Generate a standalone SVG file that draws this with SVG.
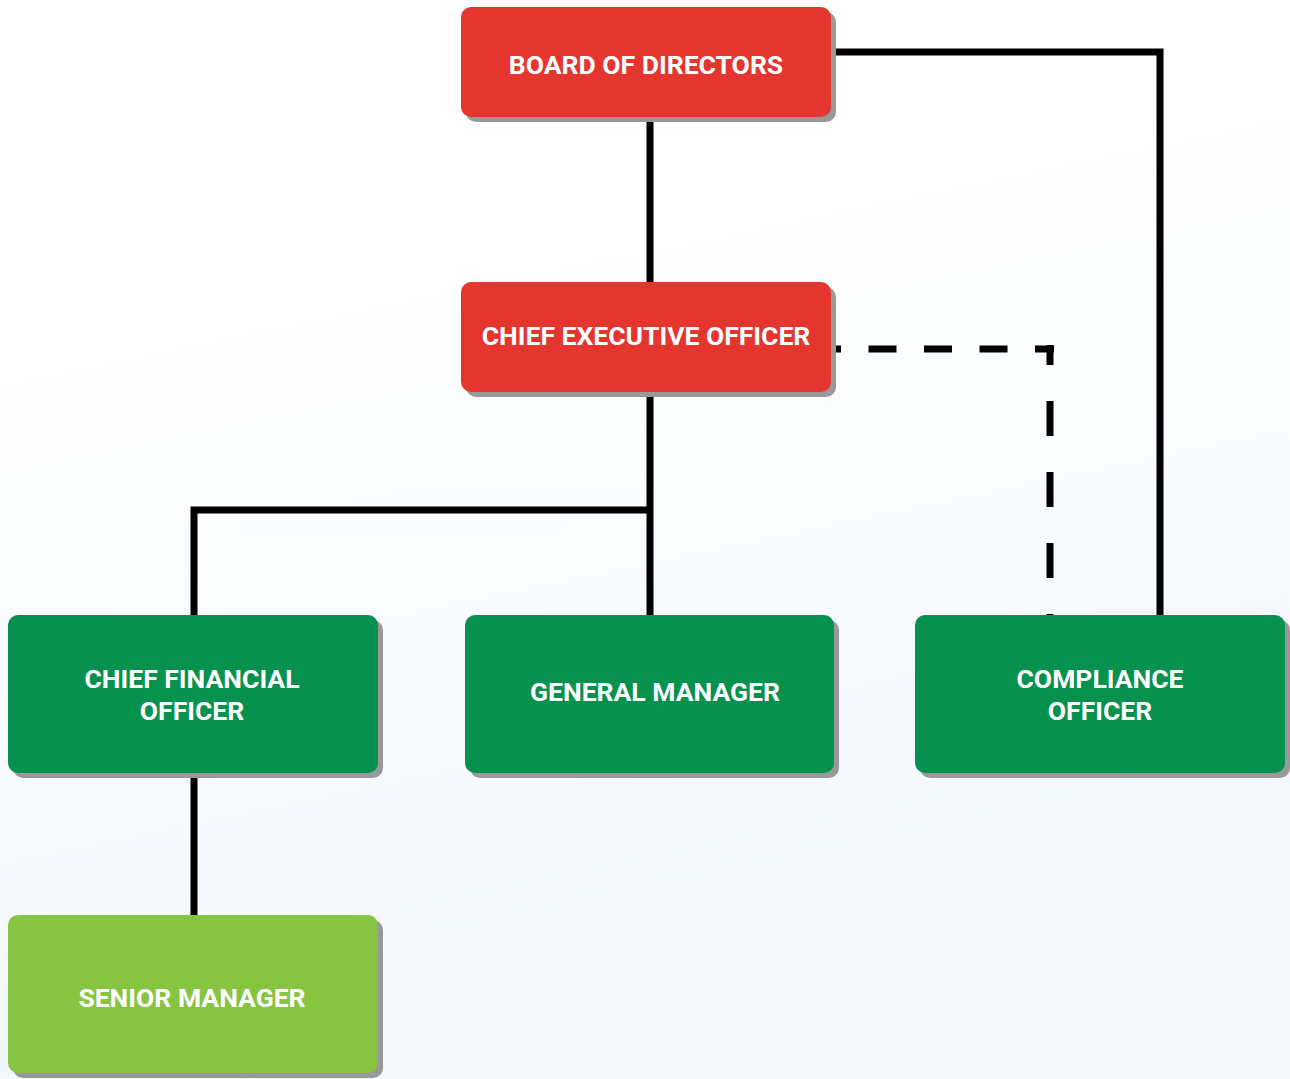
<svg xmlns="http://www.w3.org/2000/svg" width="1290" height="1079" viewBox="0 0 1290 1079">
  <defs>
    <linearGradient id="bg" x1="0" y1="0" x2="0.25" y2="1">
      <stop offset="0" stop-color="#ffffff"/>
      <stop offset="0.3" stop-color="#ffffff"/>
      <stop offset="1" stop-color="#f1f7fd"/>
    </linearGradient>
    <style>
      .shadow { fill: #999999; }
      .red { fill: #e4352e; }
      .green { fill: #07914e; }
      .lime { fill: #86c441; }
      .label { font-family: Roboto, "Liberation Sans", sans-serif; font-weight: bold; font-size: 26.5px; fill: #ffffff; text-anchor: middle; }
      .wire { fill: none; stroke: #000000; stroke-width: 7; }
    </style>
  </defs>

  <rect x="0" y="0" width="1290" height="1079" fill="url(#bg)"/>

  <!-- connectors -->
  <g id="connectors">
    <path class="wire" d="M650,117 V282"/>
    <path class="wire" d="M650,392 V615"/>
    <path class="wire" d="M194,615 V510 H650"/>
    <path class="wire" d="M194,773 V915"/>
    <path class="wire" d="M831,52 H1160 V615"/>
    <path class="wire" d="M831,349 H1054" stroke-dasharray="28 27.5" stroke-dashoffset="18"/>
    <path class="wire" d="M1050,345 V615" stroke-dasharray="35 36" stroke-dashoffset="15"/>
  </g>

  <g id="board">
    <rect class="shadow" x="466" y="12" width="370" height="110" rx="10"/>
    <rect class="red" x="461" y="7" width="370" height="110" rx="10"/>
    <text class="label" x="646" y="74">BOARD OF DIRECTORS</text>
  </g>

  <g id="ceo">
    <rect class="shadow" x="466" y="287" width="370" height="110" rx="10"/>
    <rect class="red" x="461" y="282" width="370" height="110" rx="10"/>
    <text class="label" x="646" y="345">CHIEF EXECUTIVE OFFICER</text>
  </g>

  <g id="cfo">
    <rect class="shadow" x="13" y="620" width="370" height="158" rx="10"/>
    <rect class="green" x="8" y="615" width="370" height="158" rx="10"/>
    <text class="label" x="192" y="688">CHIEF FINANCIAL</text>
    <text class="label" x="192" y="720">OFFICER</text>
  </g>

  <g id="general-manager">
    <rect class="shadow" x="470" y="620" width="369" height="158" rx="10"/>
    <rect class="green" x="465" y="615" width="369" height="158" rx="10"/>
    <text class="label" x="655" y="701">GENERAL MANAGER</text>
  </g>

  <g id="compliance">
    <rect class="shadow" x="920" y="620" width="370" height="158" rx="10"/>
    <rect class="green" x="915" y="615" width="370" height="158" rx="10"/>
    <text class="label" x="1100" y="688">COMPLIANCE</text>
    <text class="label" x="1100" y="720">OFFICER</text>
  </g>

  <g id="senior-manager">
    <rect class="shadow" x="13" y="920" width="370" height="158" rx="10"/>
    <rect class="lime" x="8" y="915" width="370" height="158" rx="10"/>
    <text class="label" x="192" y="1007">SENIOR MANAGER</text>
  </g>
</svg>
